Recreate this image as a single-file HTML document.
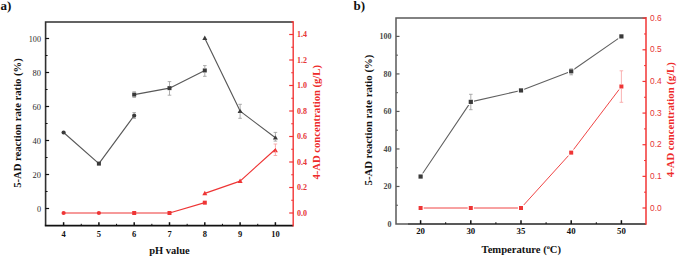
<!DOCTYPE html>
<html><head><meta charset="utf-8"><style>
html,body{margin:0;padding:0;background:#fff;}
body{width:677px;height:257px;overflow:hidden;font-family:"Liberation Serif", serif;}
svg{display:block;}
</style></head><body>
<svg width="677" height="257" viewBox="0 0 677 257">
<rect width="677" height="257" fill="#fff"/>
<path d="M293.2,22.0 L45.6,22.0 L45.6,225.6" fill="none" stroke="#303030" stroke-width="1.6" stroke-linejoin="miter"/>
<path d="M44.800000000000004,225.6 L293.2,225.6" fill="none" stroke="#111" stroke-width="1.6"/>
<line x1="45.60" y1="208.50" x2="49.10" y2="208.50" stroke="#111" stroke-width="1.2" />
<text x="41.00" y="211.50" font-size="8" fill="#2a2a2a" text-anchor="end" font-weight="normal" font-family='"Liberation Serif", serif' textLength="4.1" lengthAdjust="spacingAndGlyphs">0</text>
<line x1="45.60" y1="174.50" x2="49.10" y2="174.50" stroke="#111" stroke-width="1.2" />
<text x="41.00" y="177.50" font-size="8" fill="#2a2a2a" text-anchor="end" font-weight="normal" font-family='"Liberation Serif", serif' textLength="8.4" lengthAdjust="spacingAndGlyphs">20</text>
<line x1="45.60" y1="140.50" x2="49.10" y2="140.50" stroke="#111" stroke-width="1.2" />
<text x="41.00" y="143.50" font-size="8" fill="#2a2a2a" text-anchor="end" font-weight="normal" font-family='"Liberation Serif", serif' textLength="8.4" lengthAdjust="spacingAndGlyphs">40</text>
<line x1="45.60" y1="106.50" x2="49.10" y2="106.50" stroke="#111" stroke-width="1.2" />
<text x="41.00" y="109.50" font-size="8" fill="#2a2a2a" text-anchor="end" font-weight="normal" font-family='"Liberation Serif", serif' textLength="8.4" lengthAdjust="spacingAndGlyphs">60</text>
<line x1="45.60" y1="72.50" x2="49.10" y2="72.50" stroke="#111" stroke-width="1.2" />
<text x="41.00" y="75.50" font-size="8" fill="#2a2a2a" text-anchor="end" font-weight="normal" font-family='"Liberation Serif", serif' textLength="8.4" lengthAdjust="spacingAndGlyphs">80</text>
<line x1="45.60" y1="38.50" x2="49.10" y2="38.50" stroke="#111" stroke-width="1.2" />
<text x="41.00" y="41.50" font-size="8" fill="#2a2a2a" text-anchor="end" font-weight="normal" font-family='"Liberation Serif", serif' textLength="12.2" lengthAdjust="spacingAndGlyphs">100</text>
<line x1="45.60" y1="191.50" x2="47.60" y2="191.50" stroke="#111" stroke-width="1.0" />
<line x1="45.60" y1="157.50" x2="47.60" y2="157.50" stroke="#111" stroke-width="1.0" />
<line x1="45.60" y1="123.50" x2="47.60" y2="123.50" stroke="#111" stroke-width="1.0" />
<line x1="45.60" y1="89.50" x2="47.60" y2="89.50" stroke="#111" stroke-width="1.0" />
<line x1="45.60" y1="55.50" x2="47.60" y2="55.50" stroke="#111" stroke-width="1.0" />
<line x1="63.60" y1="225.60" x2="63.60" y2="222.20" stroke="#111" stroke-width="1.5" />
<text x="63.60" y="236.70" font-size="8.5" fill="#111" text-anchor="middle" font-weight="bold" font-family='"Liberation Serif", serif' >4</text>
<line x1="98.90" y1="225.60" x2="98.90" y2="222.20" stroke="#111" stroke-width="1.5" />
<text x="98.90" y="236.70" font-size="8.5" fill="#111" text-anchor="middle" font-weight="bold" font-family='"Liberation Serif", serif' >5</text>
<line x1="134.20" y1="225.60" x2="134.20" y2="222.20" stroke="#111" stroke-width="1.5" />
<text x="134.20" y="236.70" font-size="8.5" fill="#111" text-anchor="middle" font-weight="bold" font-family='"Liberation Serif", serif' >6</text>
<line x1="169.50" y1="225.60" x2="169.50" y2="222.20" stroke="#111" stroke-width="1.5" />
<text x="169.50" y="236.70" font-size="8.5" fill="#111" text-anchor="middle" font-weight="bold" font-family='"Liberation Serif", serif' >7</text>
<line x1="204.80" y1="225.60" x2="204.80" y2="222.20" stroke="#111" stroke-width="1.5" />
<text x="204.80" y="236.70" font-size="8.5" fill="#111" text-anchor="middle" font-weight="bold" font-family='"Liberation Serif", serif' >8</text>
<line x1="240.10" y1="225.60" x2="240.10" y2="222.20" stroke="#111" stroke-width="1.5" />
<text x="240.10" y="236.70" font-size="8.5" fill="#111" text-anchor="middle" font-weight="bold" font-family='"Liberation Serif", serif' >9</text>
<line x1="275.40" y1="225.60" x2="275.40" y2="222.20" stroke="#111" stroke-width="1.5" />
<text x="275.40" y="236.70" font-size="8.5" fill="#111" text-anchor="middle" font-weight="bold" font-family='"Liberation Serif", serif' >10</text>
<line x1="81.25" y1="225.60" x2="81.25" y2="223.80" stroke="#111" stroke-width="1.0" />
<line x1="116.55" y1="225.60" x2="116.55" y2="223.80" stroke="#111" stroke-width="1.0" />
<line x1="151.85" y1="225.60" x2="151.85" y2="223.80" stroke="#111" stroke-width="1.0" />
<line x1="187.15" y1="225.60" x2="187.15" y2="223.80" stroke="#111" stroke-width="1.0" />
<line x1="222.45" y1="225.60" x2="222.45" y2="223.80" stroke="#111" stroke-width="1.0" />
<line x1="257.75" y1="225.60" x2="257.75" y2="223.80" stroke="#111" stroke-width="1.0" />
<line x1="293.20" y1="21.20" x2="293.20" y2="226.40" stroke="#f23535" stroke-width="1.4" />
<line x1="293.20" y1="213.00" x2="289.20" y2="213.00" stroke="#f23535" stroke-width="1.2" />
<text x="297.00" y="215.70" font-size="8" fill="#e63535" text-anchor="start" font-weight="bold" font-family='"Liberation Serif", serif' >0.0</text>
<line x1="293.20" y1="187.50" x2="289.20" y2="187.50" stroke="#f23535" stroke-width="1.2" />
<text x="297.00" y="190.20" font-size="8" fill="#e63535" text-anchor="start" font-weight="bold" font-family='"Liberation Serif", serif' >0.2</text>
<line x1="293.20" y1="162.00" x2="289.20" y2="162.00" stroke="#f23535" stroke-width="1.2" />
<text x="297.00" y="164.70" font-size="8" fill="#e63535" text-anchor="start" font-weight="bold" font-family='"Liberation Serif", serif' >0.4</text>
<line x1="293.20" y1="136.50" x2="289.20" y2="136.50" stroke="#f23535" stroke-width="1.2" />
<text x="297.00" y="139.20" font-size="8" fill="#e63535" text-anchor="start" font-weight="bold" font-family='"Liberation Serif", serif' >0.6</text>
<line x1="293.20" y1="111.00" x2="289.20" y2="111.00" stroke="#f23535" stroke-width="1.2" />
<text x="297.00" y="113.70" font-size="8" fill="#e63535" text-anchor="start" font-weight="bold" font-family='"Liberation Serif", serif' >0.8</text>
<line x1="293.20" y1="85.50" x2="289.20" y2="85.50" stroke="#f23535" stroke-width="1.2" />
<text x="297.00" y="88.20" font-size="8" fill="#e63535" text-anchor="start" font-weight="bold" font-family='"Liberation Serif", serif' >1.0</text>
<line x1="293.20" y1="60.00" x2="289.20" y2="60.00" stroke="#f23535" stroke-width="1.2" />
<text x="297.00" y="62.70" font-size="8" fill="#e63535" text-anchor="start" font-weight="bold" font-family='"Liberation Serif", serif' >1.2</text>
<line x1="293.20" y1="34.50" x2="289.20" y2="34.50" stroke="#f23535" stroke-width="1.2" />
<text x="297.00" y="37.20" font-size="8" fill="#e63535" text-anchor="start" font-weight="bold" font-family='"Liberation Serif", serif' >1.4</text>
<line x1="293.20" y1="200.25" x2="291.20" y2="200.25" stroke="#f23535" stroke-width="1.0" />
<line x1="293.20" y1="174.75" x2="291.20" y2="174.75" stroke="#f23535" stroke-width="1.0" />
<line x1="293.20" y1="149.25" x2="291.20" y2="149.25" stroke="#f23535" stroke-width="1.0" />
<line x1="293.20" y1="123.75" x2="291.20" y2="123.75" stroke="#f23535" stroke-width="1.0" />
<line x1="293.20" y1="98.25" x2="291.20" y2="98.25" stroke="#f23535" stroke-width="1.0" />
<line x1="293.20" y1="72.75" x2="291.20" y2="72.75" stroke="#f23535" stroke-width="1.0" />
<line x1="293.20" y1="47.25" x2="291.20" y2="47.25" stroke="#f23535" stroke-width="1.0" />
<line x1="293.20" y1="21.75" x2="291.20" y2="21.75" stroke="#f23535" stroke-width="1.0" />
<text x="21.40" y="123.00" font-size="9.5" fill="#111" text-anchor="middle" font-weight="bold" font-family='"Liberation Serif", serif' transform="rotate(-90 21.40 123.00)" textLength="129.5" lengthAdjust="spacingAndGlyphs">5-AD reaction rate ratio (%)</text>
<text x="319.70" y="122.30" font-size="9.5" fill="#ee2a2a" text-anchor="middle" font-weight="bold" font-family='"Liberation Serif", serif' transform="rotate(-90 319.70 122.30)" textLength="114.5" lengthAdjust="spacingAndGlyphs">4-AD concentration (g/L)</text>
<text x="169.40" y="254.10" font-size="9.5" fill="#111" text-anchor="middle" font-weight="bold" font-family='"Liberation Serif", serif' textLength="40.5" lengthAdjust="spacingAndGlyphs">pH value</text>
<text x="0.50" y="9.80" font-size="13" fill="#111" text-anchor="start" font-weight="bold" font-family='"Liberation Serif", serif' >a)</text>
<polyline points="63.60,132.51 98.90,163.62 134.20,115.68" fill="none" stroke="#585858" stroke-width="1.15" stroke-linejoin="round"/>
<polyline points="134.20,94.60 169.50,88.14 204.80,70.46" fill="none" stroke="#585858" stroke-width="1.15" stroke-linejoin="round"/>
<polyline points="204.80,38.16 240.10,111.09 275.40,137.78" fill="none" stroke="#585858" stroke-width="1.15" stroke-linejoin="round"/>
<circle cx="63.60" cy="132.51" r="2.1" fill="#3a3a3a" />
<rect x="96.90" y="161.62" width="4" height="4" fill="#3a3a3a" />
<circle cx="134.20" cy="115.68" r="2.1" fill="#3a3a3a" />
<rect x="132.20" y="92.60" width="4" height="4" fill="#3a3a3a" />
<rect x="167.50" y="86.14" width="4" height="4" fill="#3a3a3a" />
<rect x="202.80" y="68.46" width="4" height="4" fill="#3a3a3a" />
<polygon points="204.80,35.46 202.30,39.96 207.30,39.96" fill="#3a3a3a"  stroke-linejoin="round"/>
<polygon points="240.10,108.39 237.60,112.89 242.60,112.89" fill="#3a3a3a"  stroke-linejoin="round"/>
<polygon points="275.40,135.08 272.90,139.58 277.90,139.58" fill="#3a3a3a"  stroke-linejoin="round"/>
<polyline points="63.60,213.00 98.90,213.00 134.20,213.00 169.50,213.00 204.80,202.67" fill="none" stroke="#ee3535" stroke-width="1.15" stroke-linejoin="round"/>
<polyline points="204.80,193.37 240.10,181.12 275.40,149.25" fill="none" stroke="#ee3535" stroke-width="1.15" stroke-linejoin="round"/>
<circle cx="63.60" cy="213.00" r="2.1" fill="#ee3535" />
<circle cx="98.90" cy="213.00" r="2.1" fill="#ee3535" />
<rect x="132.20" y="211.00" width="4" height="4" fill="#ee3535" />
<rect x="167.50" y="211.00" width="4" height="4" fill="#ee3535" />
<rect x="202.80" y="200.67" width="4" height="4" fill="#ee3535" />
<polygon points="204.80,190.67 202.30,195.17 207.30,195.17" fill="#ee3535"  stroke-linejoin="round"/>
<polygon points="240.10,178.43 237.60,182.93 242.60,182.93" fill="#ee3535"  stroke-linejoin="round"/>
<polygon points="275.40,147.79 272.90,152.29 277.90,152.29" fill="#ee3535"  stroke-linejoin="round"/>
<line x1="134.20" y1="112.60" x2="134.20" y2="113.68" stroke="#999" stroke-width="0.8" />
<line x1="134.20" y1="117.68" x2="134.20" y2="118.40" stroke="#999" stroke-width="0.8" />
<line x1="132.40" y1="112.60" x2="136.00" y2="112.60" stroke="#999" stroke-width="0.8" />
<line x1="132.40" y1="118.40" x2="136.00" y2="118.40" stroke="#999" stroke-width="0.8" />
<line x1="134.20" y1="91.80" x2="134.20" y2="92.60" stroke="#999" stroke-width="0.8" />
<line x1="134.20" y1="96.60" x2="134.20" y2="97.40" stroke="#999" stroke-width="0.8" />
<line x1="132.40" y1="91.80" x2="136.00" y2="91.80" stroke="#999" stroke-width="0.8" />
<line x1="132.40" y1="97.40" x2="136.00" y2="97.40" stroke="#999" stroke-width="0.8" />
<line x1="169.50" y1="81.60" x2="169.50" y2="86.14" stroke="#999" stroke-width="0.8" />
<line x1="169.50" y1="90.14" x2="169.50" y2="95.20" stroke="#999" stroke-width="0.8" />
<line x1="167.70" y1="81.60" x2="171.30" y2="81.60" stroke="#999" stroke-width="0.8" />
<line x1="167.70" y1="95.20" x2="171.30" y2="95.20" stroke="#999" stroke-width="0.8" />
<line x1="204.80" y1="65.60" x2="204.80" y2="68.46" stroke="#999" stroke-width="0.8" />
<line x1="204.80" y1="72.46" x2="204.80" y2="76.30" stroke="#999" stroke-width="0.8" />
<line x1="203.00" y1="65.60" x2="206.60" y2="65.60" stroke="#999" stroke-width="0.8" />
<line x1="203.00" y1="76.30" x2="206.60" y2="76.30" stroke="#999" stroke-width="0.8" />
<line x1="240.10" y1="104.30" x2="240.10" y2="109.59" stroke="#999" stroke-width="0.8" />
<line x1="240.10" y1="112.59" x2="240.10" y2="118.30" stroke="#999" stroke-width="0.8" />
<line x1="238.30" y1="104.30" x2="241.90" y2="104.30" stroke="#999" stroke-width="0.8" />
<line x1="238.30" y1="118.30" x2="241.90" y2="118.30" stroke="#999" stroke-width="0.8" />
<line x1="275.40" y1="132.40" x2="275.40" y2="136.28" stroke="#999" stroke-width="0.8" />
<line x1="275.40" y1="139.28" x2="275.40" y2="141.10" stroke="#999" stroke-width="0.8" />
<line x1="273.60" y1="132.40" x2="277.20" y2="132.40" stroke="#999" stroke-width="0.8" />
<line x1="273.60" y1="141.10" x2="277.20" y2="141.10" stroke="#999" stroke-width="0.8" />
<line x1="275.40" y1="144.00" x2="275.40" y2="147.75" stroke="#f59a9a" stroke-width="0.8" />
<line x1="275.40" y1="150.75" x2="275.40" y2="155.50" stroke="#f59a9a" stroke-width="0.8" />
<line x1="273.60" y1="144.00" x2="277.20" y2="144.00" stroke="#f59a9a" stroke-width="0.8" />
<line x1="273.60" y1="155.50" x2="277.20" y2="155.50" stroke="#f59a9a" stroke-width="0.8" />
<path d="M646.0,17.9 L396.0,17.9 L396.0,224.0 L408.0,224.0" fill="none" stroke="#5a5a5a" stroke-width="1.5" stroke-linejoin="miter"/>
<line x1="408.00" y1="224.00" x2="646.00" y2="224.00" stroke="#222" stroke-width="1.6" />
<text x="391.40" y="226.70" font-size="8" fill="#4a4a4a" text-anchor="end" font-weight="bold" font-family='"Liberation Serif", serif' >0</text>
<line x1="396.00" y1="186.48" x2="399.50" y2="186.48" stroke="#5a5a5a" stroke-width="1.2" />
<text x="391.40" y="189.18" font-size="8" fill="#4a4a4a" text-anchor="end" font-weight="bold" font-family='"Liberation Serif", serif' >20</text>
<line x1="396.00" y1="148.96" x2="399.50" y2="148.96" stroke="#5a5a5a" stroke-width="1.2" />
<text x="391.40" y="151.66" font-size="8" fill="#4a4a4a" text-anchor="end" font-weight="bold" font-family='"Liberation Serif", serif' >40</text>
<line x1="396.00" y1="111.44" x2="399.50" y2="111.44" stroke="#5a5a5a" stroke-width="1.2" />
<text x="391.40" y="114.14" font-size="8" fill="#4a4a4a" text-anchor="end" font-weight="bold" font-family='"Liberation Serif", serif' >60</text>
<line x1="396.00" y1="73.92" x2="399.50" y2="73.92" stroke="#5a5a5a" stroke-width="1.2" />
<text x="391.40" y="76.62" font-size="8" fill="#4a4a4a" text-anchor="end" font-weight="bold" font-family='"Liberation Serif", serif' >80</text>
<line x1="396.00" y1="36.40" x2="399.50" y2="36.40" stroke="#5a5a5a" stroke-width="1.2" />
<text x="391.40" y="39.10" font-size="8" fill="#4a4a4a" text-anchor="end" font-weight="bold" font-family='"Liberation Serif", serif' >100</text>
<line x1="396.00" y1="205.24" x2="398.00" y2="205.24" stroke="#5a5a5a" stroke-width="1.0" />
<line x1="396.00" y1="167.72" x2="398.00" y2="167.72" stroke="#5a5a5a" stroke-width="1.0" />
<line x1="396.00" y1="130.20" x2="398.00" y2="130.20" stroke="#5a5a5a" stroke-width="1.0" />
<line x1="396.00" y1="92.68" x2="398.00" y2="92.68" stroke="#5a5a5a" stroke-width="1.0" />
<line x1="396.00" y1="55.16" x2="398.00" y2="55.16" stroke="#5a5a5a" stroke-width="1.0" />
<line x1="420.60" y1="224.00" x2="420.60" y2="220.20" stroke="#111" stroke-width="1.5" />
<text x="420.60" y="234.40" font-size="8.8" fill="#111" text-anchor="middle" font-weight="bold" font-family='"Liberation Serif", serif' >20</text>
<line x1="470.80" y1="224.00" x2="470.80" y2="220.20" stroke="#111" stroke-width="1.5" />
<text x="470.80" y="234.40" font-size="8.8" fill="#111" text-anchor="middle" font-weight="bold" font-family='"Liberation Serif", serif' >30</text>
<line x1="521.00" y1="224.00" x2="521.00" y2="220.20" stroke="#111" stroke-width="1.5" />
<text x="521.00" y="234.40" font-size="8.8" fill="#111" text-anchor="middle" font-weight="bold" font-family='"Liberation Serif", serif' >35</text>
<line x1="571.20" y1="224.00" x2="571.20" y2="220.20" stroke="#111" stroke-width="1.5" />
<text x="571.20" y="234.40" font-size="8.8" fill="#111" text-anchor="middle" font-weight="bold" font-family='"Liberation Serif", serif' >40</text>
<line x1="621.40" y1="224.00" x2="621.40" y2="220.20" stroke="#111" stroke-width="1.5" />
<text x="621.40" y="234.40" font-size="8.8" fill="#111" text-anchor="middle" font-weight="bold" font-family='"Liberation Serif", serif' >50</text>
<line x1="445.70" y1="224.00" x2="445.70" y2="222.20" stroke="#111" stroke-width="1.0" />
<line x1="495.90" y1="224.00" x2="495.90" y2="222.20" stroke="#111" stroke-width="1.0" />
<line x1="546.10" y1="224.00" x2="546.10" y2="222.20" stroke="#111" stroke-width="1.0" />
<line x1="596.30" y1="224.00" x2="596.30" y2="222.20" stroke="#111" stroke-width="1.0" />
<line x1="646.00" y1="17.10" x2="646.00" y2="224.80" stroke="#f23535" stroke-width="1.5" />
<line x1="646.00" y1="208.00" x2="642.50" y2="208.00" stroke="#f23535" stroke-width="1.2" />
<text x="650.00" y="210.50" font-size="8.4" fill="#e63535" text-anchor="start" font-weight="normal" font-family='"Liberation Sans", sans-serif' >0.0</text>
<line x1="646.00" y1="176.36" x2="642.50" y2="176.36" stroke="#f23535" stroke-width="1.2" />
<text x="650.00" y="178.86" font-size="8.4" fill="#e63535" text-anchor="start" font-weight="normal" font-family='"Liberation Sans", sans-serif' >0.1</text>
<line x1="646.00" y1="144.72" x2="642.50" y2="144.72" stroke="#f23535" stroke-width="1.2" />
<text x="650.00" y="147.22" font-size="8.4" fill="#e63535" text-anchor="start" font-weight="normal" font-family='"Liberation Sans", sans-serif' >0.2</text>
<line x1="646.00" y1="113.08" x2="642.50" y2="113.08" stroke="#f23535" stroke-width="1.2" />
<text x="650.00" y="115.58" font-size="8.4" fill="#e63535" text-anchor="start" font-weight="normal" font-family='"Liberation Sans", sans-serif' >0.3</text>
<line x1="646.00" y1="81.44" x2="642.50" y2="81.44" stroke="#f23535" stroke-width="1.2" />
<text x="650.00" y="83.94" font-size="8.4" fill="#e63535" text-anchor="start" font-weight="normal" font-family='"Liberation Sans", sans-serif' >0.4</text>
<line x1="646.00" y1="49.80" x2="642.50" y2="49.80" stroke="#f23535" stroke-width="1.2" />
<text x="650.00" y="52.30" font-size="8.4" fill="#e63535" text-anchor="start" font-weight="normal" font-family='"Liberation Sans", sans-serif' >0.5</text>
<line x1="646.00" y1="18.16" x2="642.50" y2="18.16" stroke="#f23535" stroke-width="1.2" />
<text x="650.00" y="20.66" font-size="8.4" fill="#e63535" text-anchor="start" font-weight="normal" font-family='"Liberation Sans", sans-serif' >0.6</text>
<line x1="646.00" y1="192.18" x2="644.00" y2="192.18" stroke="#f23535" stroke-width="1.0" />
<line x1="646.00" y1="160.54" x2="644.00" y2="160.54" stroke="#f23535" stroke-width="1.0" />
<line x1="646.00" y1="128.90" x2="644.00" y2="128.90" stroke="#f23535" stroke-width="1.0" />
<line x1="646.00" y1="97.26" x2="644.00" y2="97.26" stroke="#f23535" stroke-width="1.0" />
<line x1="646.00" y1="65.62" x2="644.00" y2="65.62" stroke="#f23535" stroke-width="1.0" />
<line x1="646.00" y1="33.98" x2="644.00" y2="33.98" stroke="#f23535" stroke-width="1.0" />
<text x="372.00" y="120.10" font-size="10" fill="#111" text-anchor="middle" font-weight="bold" font-family='"Liberation Serif", serif' transform="rotate(-90 372.00 120.10)" textLength="130.7" lengthAdjust="spacingAndGlyphs">5-AD reaction rate ratio (%)</text>
<text x="674.50" y="119.70" font-size="10" fill="#ee2a2a" text-anchor="middle" font-weight="bold" font-family='"Liberation Serif", serif' transform="rotate(-90 674.50 119.70)" textLength="115" lengthAdjust="spacingAndGlyphs">4-AD concentration (g/L)</text>
<text x="521.30" y="252.70" font-size="10.3" fill="#111" text-anchor="middle" font-weight="bold" font-family='"Liberation Serif", serif' textLength="79.5" lengthAdjust="spacingAndGlyphs">Temperature (<tspan font-size="6" dy="-3.5">o</tspan><tspan dy="3.5">C)</tspan></text>
<text x="353.50" y="9.80" font-size="13" fill="#111" text-anchor="start" font-weight="bold" font-family='"Liberation Serif", serif' >b)</text>
<polyline points="420.60,176.54 470.80,101.87 521.00,90.43 571.20,71.29 621.40,36.40" fill="none" stroke="#606060" stroke-width="1.05" stroke-linejoin="round"/>
<rect x="418.50" y="174.44" width="4.2" height="4.2" fill="#3a3a3a" stroke="#fff" stroke-width="2.2" paint-order="stroke"/>
<rect x="468.70" y="99.77" width="4.2" height="4.2" fill="#3a3a3a" stroke="#fff" stroke-width="2.2" paint-order="stroke"/>
<rect x="518.90" y="88.33" width="4.2" height="4.2" fill="#3a3a3a" stroke="#fff" stroke-width="2.2" paint-order="stroke"/>
<rect x="569.10" y="69.19" width="4.2" height="4.2" fill="#3a3a3a" stroke="#fff" stroke-width="2.2" paint-order="stroke"/>
<rect x="619.30" y="34.30" width="4.2" height="4.2" fill="#3a3a3a" stroke="#fff" stroke-width="2.2" paint-order="stroke"/>
<polyline points="420.60,208.00 470.80,208.00 521.00,208.00 571.20,152.63 621.40,86.50" fill="none" stroke="#f04545" stroke-width="1.0" stroke-linejoin="round"/>
<rect x="418.60" y="206.00" width="4.0" height="4.0" fill="#ee3535" stroke="#fff" stroke-width="2.2" paint-order="stroke"/>
<rect x="468.80" y="206.00" width="4.0" height="4.0" fill="#ee3535" stroke="#fff" stroke-width="2.2" paint-order="stroke"/>
<rect x="519.00" y="206.00" width="4.0" height="4.0" fill="#ee3535" stroke="#fff" stroke-width="2.2" paint-order="stroke"/>
<rect x="569.20" y="150.63" width="4.0" height="4.0" fill="#ee3535" stroke="#fff" stroke-width="2.2" paint-order="stroke"/>
<rect x="619.40" y="84.50" width="4.0" height="4.0" fill="#ee3535" stroke="#fff" stroke-width="2.2" paint-order="stroke"/>
<line x1="470.80" y1="94.30" x2="470.80" y2="99.77" stroke="#999" stroke-width="0.8" />
<line x1="470.80" y1="103.97" x2="470.80" y2="109.70" stroke="#999" stroke-width="0.8" />
<line x1="469.00" y1="94.30" x2="472.60" y2="94.30" stroke="#999" stroke-width="0.8" />
<line x1="469.00" y1="109.70" x2="472.60" y2="109.70" stroke="#999" stroke-width="0.8" />
<line x1="571.20" y1="68.80" x2="571.20" y2="69.19" stroke="#999" stroke-width="0.8" />
<line x1="571.20" y1="73.39" x2="571.20" y2="74.80" stroke="#999" stroke-width="0.8" />
<line x1="569.40" y1="68.80" x2="573.00" y2="68.80" stroke="#999" stroke-width="0.8" />
<line x1="569.40" y1="74.80" x2="573.00" y2="74.80" stroke="#999" stroke-width="0.8" />
<line x1="621.40" y1="70.80" x2="621.40" y2="84.50" stroke="#f7a0a0" stroke-width="0.8" />
<line x1="621.40" y1="88.50" x2="621.40" y2="102.30" stroke="#f7a0a0" stroke-width="0.8" />
<line x1="619.60" y1="70.80" x2="623.20" y2="70.80" stroke="#f7a0a0" stroke-width="0.8" />
<line x1="619.60" y1="102.30" x2="623.20" y2="102.30" stroke="#f7a0a0" stroke-width="0.8" />
</svg>
</body></html>
